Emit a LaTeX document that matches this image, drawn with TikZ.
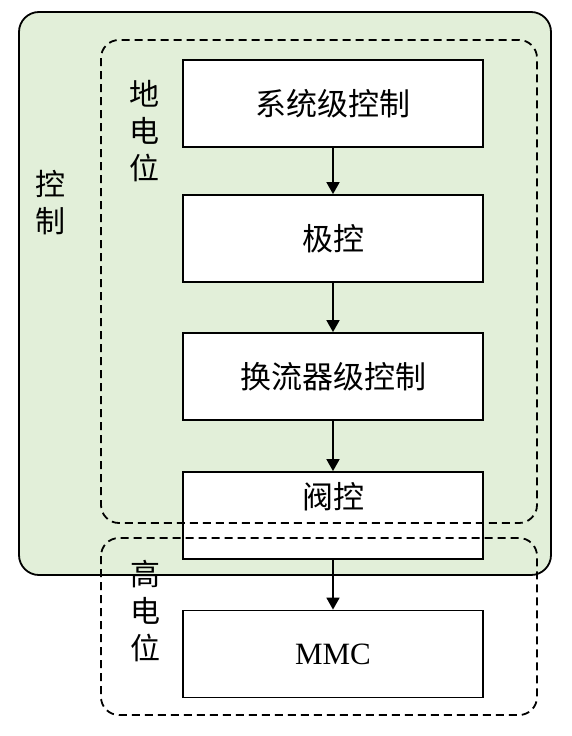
\documentclass[tikz,border=0pt]{standalone}
\usepackage{fontspec}
\setmainfont{Liberation Serif}
\newfontfamily\cjk{Noto Sans CJK SC}
\usetikzlibrary{arrows.meta}
\definecolor{bggreen}{RGB}{226,239,217}
\tikzset{
  blk/.style={draw=black, line width=1.8pt, fill=white, minimum width=300pt, minimum height=87pt, inner sep=0pt, font=\cjk\fontsize{31}{36}\selectfont},
  arr/.style={line width=1.8pt, -{Triangle[length=12pt,width=13pt]}},
  zone/.style={draw=black, line width=1.8pt, dash pattern=on 8pt off 5pt, rounded corners=18pt},
  vlabel/.style={align=center, inner sep=0pt, font=\cjk\fontsize{30}{37}\selectfont}
}
\begin{document}
\begin{tikzpicture}[x=1pt,y=-1pt]
\useasboundingbox (0,0) rectangle (571,736);
\path[draw=black, line width=1.8pt, fill=bggreen, rounded corners=20pt] (19,12) rectangle (551,575);
\node[blk] (sys) at (333,103.5) {系统级控制};
\node[blk] (pole) at (333,238.5) {极控};
\node[blk] (conv) at (333,376.5) {换流器级控制};
\node[blk] (valve) at (333,515.5) {};
\node[font=\cjk\fontsize{31}{36}\selectfont, inner sep=0pt] (valvetext) at (333,497) {阀控};
\node[blk, font=\fontsize{31}{36}\selectfont] (mmc) at (333,654) {MMC};
\draw[arr] (sys.south) -- (pole.north);
\draw[arr] (pole.south) -- (conv.north);
\draw[arr] (conv.south) -- (valve.north);
\draw[arr] (valve.south) -- (mmc.north);
\node[vlabel] (ctrl) at (50,203) {控\\制};
\node[vlabel] (ground) at (144,131) {地\\电\\位};
\node[vlabel] (high) at (145,611) {高\\电\\位};
\path[zone] (101,40) rectangle (537,523);
\path[zone] (101,538) rectangle (537,715);
\end{tikzpicture}
\end{document}
